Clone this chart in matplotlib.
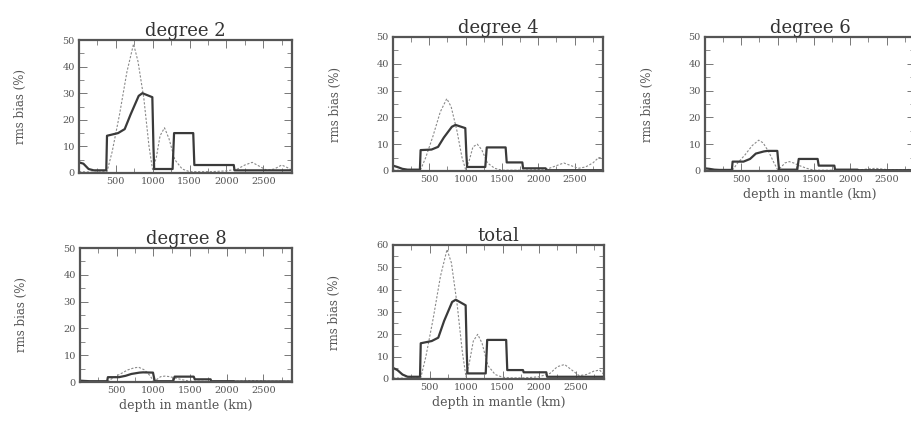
import matplotlib
matplotlib.use("Agg")
import matplotlib.pyplot as plt
from matplotlib.ticker import MultipleLocator

plt.rcParams['font.family'] = ['DejaVu Serif']

# Depth grids (km)
depth_solid = [0, 60, 130, 200, 370, 380, 530, 620, 700, 810, 860, 995, 1010, 1020,
               1270, 1290, 1550, 1565, 1780, 1790, 2100, 2110, 2890]
depth_dot = [0, 200, 380, 450, 550, 650, 740, 800, 880, 950, 1000, 1050, 1100, 1160,
             1220, 1300, 1400, 1500, 1600, 1800, 2000, 2150, 2250, 2350, 2450, 2550,
             2650, 2750, 2830, 2890]

titles = ["degree 2", "degree 4", "degree 6", "degree 8", "total"]

solid_deg2 = [4, 3.5, 1.5, 1, 1, 14, 15, 16.5, 22, 29, 30, 28.5, 10, 1.5,
              1.5, 15, 15, 3, 3, 3, 3, 1, 1]
solid_deg4 = [2, 1.5, 0.8, 0.5, 0.5, 7.8, 8, 9, 12.5, 16.5, 17.2, 16, 6, 1.5,
              1.5, 8.8, 8.8, 3.2, 3.2, 1, 1, 0.3, 0.3]
solid_deg6 = [1, 0.8, 0.5, 0.4, 0.4, 3.5, 3.5, 4.5, 6.5, 7.3, 7.5, 7.5, 3, 0.5,
              0.5, 4.5, 4.5, 2, 2, 0.5, 0.5, 0.3, 0.3]
solid_deg8 = [0.5, 0.4, 0.3, 0.3, 0.3, 1.8, 1.8, 2.3, 3, 3.5, 3.6, 3.5, 1.5, 0.3,
              0.3, 2, 2, 1, 1, 0.3, 0.3, 0.2, 0.2]
solid_total = [5, 4, 2, 1, 1, 16, 17, 18.5, 26, 34.5, 35.5, 33, 12, 2.5,
               2.5, 17.5, 17.5, 4, 4, 3, 3, 1, 1]

dot_deg2 = [0.5, 0.3, 0.5, 8, 22, 38, 48.5, 42, 28, 10, 1, 6, 14, 17, 13, 5, 1.5,
            0.5, 0.5, 0.5, 0.8, 1.5, 3, 4, 2.5, 1, 1.5, 3, 2, 1]
dot_deg4 = [0.3, 0.2, 0.5, 5, 13, 22, 27, 24, 15, 5, 0.5, 4, 9, 10, 8, 3, 1,
            0.3, 0.3, 0.3, 0.5, 1, 2, 3, 2, 1, 1.5, 3, 5, 5]
dot_deg6 = [0.3, 0.2, 0.4, 3, 6, 9.5, 11.5, 10.5, 7, 3, 0.5, 1.5, 3, 3.5, 3, 2, 1,
            0.3, 0.3, 0.3, 0.3, 0.5, 0.8, 1, 0.7, 0.4, 0.4, 0.5, 0.6, 0.5]
dot_deg8 = [0.2, 0.1, 0.3, 1.5, 3, 4.5, 5.3, 5.5, 4.5, 2.5, 0.5, 1, 2, 2.2, 2, 1.5,
            0.8, 0.3, 0.3, 0.2, 0.2, 0.3, 0.4, 0.5, 0.4, 0.3, 0.3, 0.3, 0.3, 0.3]
dot_total = [0.5, 0.3, 0.5, 10, 27, 46, 58, 52, 33, 12, 1, 8, 17, 20, 16, 6, 2,
             0.8, 0.5, 0.5, 1, 2.5, 5.5, 6.5, 4, 1.5, 2, 3.5, 4, 2]

solids = [solid_deg2, solid_deg4, solid_deg6, solid_deg8, solid_total]
dots = [dot_deg2, dot_deg4, dot_deg6, dot_deg8, dot_total]
ymaxes = [50, 50, 50, 50, 60]
xticks = [500, 1000, 1500, 2000, 2500]
show_xlabel = [False, False, True, True, True]

W, H = 912, 430
boxes = [  # left, top, right, bottom in pixels
    (79, 40, 292, 173),
    (393, 37, 603, 171),
    (705, 37, 915, 171),
    (80, 248, 292, 382),
    (393, 245, 604, 379),
]

fig = plt.figure(figsize=(W / 100, H / 100), dpi=100)
frame_col = '#555555'
text_col = '#555555'

for i in range(5):
    l, t, r, b = boxes[i]
    ax = fig.add_axes([l / W, (H - b) / H, (r - l) / W, (b - t) / H])
    ax.plot(depth_dot, dots[i], color='#8a8a8a', lw=0.8, linestyle=(0, (2, 1.5)))
    ax.plot(depth_solid, solids[i], color='#3a3a3a', lw=1.6)
    ax.set_xlim(0, 2890)
    ax.set_ylim(0, ymaxes[i])
    ax.set_xticks(xticks)
    ax.xaxis.set_minor_locator(MultipleLocator(250))
    ax.yaxis.set_major_locator(MultipleLocator(10))
    ax.yaxis.set_minor_locator(MultipleLocator(5))
    ax.tick_params(which='both', direction='in', top=True, right=True,
                   colors='#777777', labelcolor=text_col, labelsize=7, pad=3)
    ax.tick_params(which='major', length=6, width=0.7)
    ax.tick_params(which='minor', length=3.5, width=0.6)
    for sp in ax.spines.values():
        sp.set_linewidth(1.6)
        sp.set_color(frame_col)
    ax.set_title(titles[i], fontsize=13, color='#333333', pad=3)
    ax.set_ylabel("rms bias (%)", fontsize=8.5, color=text_col)
    ax.yaxis.set_label_coords(-0.245, 0.5)
    if show_xlabel[i]:
        ax.set_xlabel("depth in mantle (km)", fontsize=9, color=text_col, labelpad=3)

fig.savefig("out.png", dpi=100)
